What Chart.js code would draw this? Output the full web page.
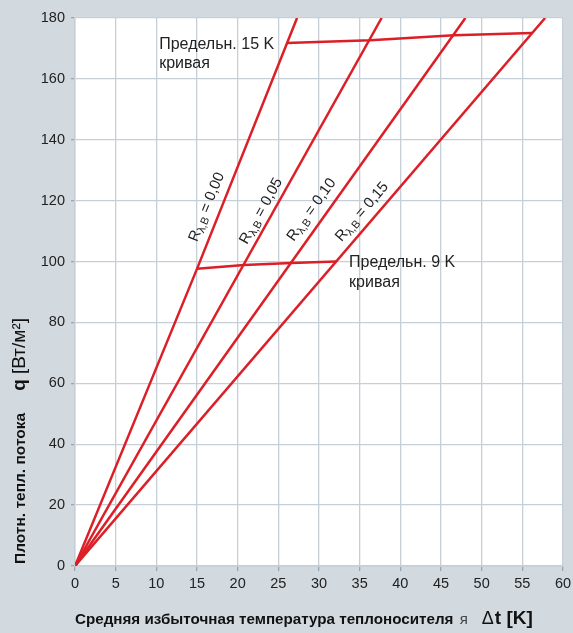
<!DOCTYPE html>
<html>
<head>
<meta charset="utf-8">
<script src="https://cdn.jsdelivr.net/npm/chart.js@4.4.1/dist/chart.umd.min.js"></script>
<style>
  html, body { margin: 0; padding: 0; background: #d2dae0; }
  #wrap { width: 573px; height: 633px; }
</style>
</head>
<body>
<div id="wrap"><canvas id="grafica" width="573" height="633"></canvas></div>
<script>
// Значения
const rLabels = ["0,00", "0,05", "0,10", "0,15"];
const r000X = [0, 15, 27.3];
const r000Y = [0, 97.6, 180];
const r005X = [0, 37.7];
const r005Y = [0, 180];
const r010X = [0, 48.0];
const r010Y = [0, 180];
const r015X = [0, 57.8];
const r015Y = [0, 180];
const limit9X = [15, 20.8, 26.6, 32.1];
const limit9Y = [97.6, 98.9, 99.5, 100];
const limit15X = [26.0, 36.3, 46.6, 56.2];
const limit15Y = [171.8, 172.7, 174.3, 175.1];
const xTicks = [0, 5, 10, 15, 20, 25, 30, 35, 40, 45, 50, 55, 60];
const yTicks = [0, 20, 40, 60, 80, 100, 120, 140, 160, 180];

const RED = "#dc1f26";
const FONT = "'Liberation Sans', Arial, sans-serif";

function puntos(xs, ys) {
  return xs.map((x, i) => ({ x: x, y: ys[i] }));
}

function serie(xs, ys) {
  return {
    data: puntos(xs, ys),
    borderColor: RED,
    borderWidth: 2.5,
    pointRadius: 0,
    showLine: true,
    tension: 0,
  };
}

// posiciones de los textos (centro, en coordenadas de datos)
const rLabelPos = [
  { x: 16.2, y: 117.9, line: [r000X, r000Y] },
  { x: 22.9, y: 116.6, line: [r005X, r005Y] },
  { x: 29.1, y: 117.0, line: [r010X, r010Y] },
  { x: 35.3, y: 116.3, line: [r015X, r015Y] },
];
const limitTexts = [
  { x: 10.35, y: 171.4, lines: ["Предельн. 15 K", "кривая"] },
  { x: 33.7, y: 99.5, lines: ["Предельн. 9 K", "кривая"] },
];

const fondo = {
  id: "fondo",
  beforeDraw(chart) {
    const { ctx, chartArea: a } = chart;
    ctx.save();
    ctx.fillStyle = "#d2dae0";
    ctx.fillRect(0, 0, chart.width, chart.height);
    ctx.fillStyle = "#ffffff";
    ctx.fillRect(a.left, a.top, a.right - a.left, a.bottom - a.top);
    ctx.restore();
  },
};

const textos = {
  id: "textos",
  afterDatasetsDraw(chart) {
    const { ctx, scales } = chart;
    const sx = scales.x, sy = scales.y;
    ctx.save();
    ctx.fillStyle = "#222";
    ctx.textBaseline = "middle";

    // R labels, rotated along each line
    rLabelPos.forEach((p, i) => {
      const xs = p.line[0], ys = p.line[1];
      const n = xs.length - 1;
      const dx = sx.getPixelForValue(xs[n]) - sx.getPixelForValue(xs[0]);
      const dy = sy.getPixelForValue(ys[n]) - sy.getPixelForValue(ys[0]);
      const ang = Math.atan2(dy, dx);
      const parts = [
        { t: "R", f: "15px " + FONT, off: 0 },
        { t: "λ,B", f: "11px " + FONT, off: 4 },
        { t: " = " + rLabels[i], f: "15px " + FONT, off: 0 },
      ];
      let total = 0;
      parts.forEach((q) => { ctx.font = q.f; q.w = ctx.measureText(q.t).width; total += q.w; });
      ctx.save();
      ctx.translate(sx.getPixelForValue(p.x), sy.getPixelForValue(p.y));
      ctx.rotate(ang);
      let cx = -total / 2;
      ctx.textAlign = "left";
      parts.forEach((q) => {
        ctx.font = q.f;
        ctx.fillText(q.t, cx, q.off);
        cx += q.w;
      });
      ctx.restore();
    });

    // limit curve texts
    ctx.font = "16px " + FONT;
    ctx.textAlign = "left";
    limitTexts.forEach((t) => {
      const px = sx.getPixelForValue(t.x);
      const py = sy.getPixelForValue(t.y);
      t.lines.forEach((s, k) => ctx.fillText(s, px, py + k * 19.5));
    });

    // axis titles
    ctx.textBaseline = "alphabetic";
    const xParts = [
      { t: "Средняя избыточная температура теплоносителя ", f: "bold 15.2px " + FONT, c: "#111", gap: 2 },
      { t: "я", f: "15px " + FONT, c: "#444", gap: 14 },
      { t: "Δ", f: "18px " + FONT, c: "#111", gap: 1 },
      { t: "t [K]", f: "bold 19px " + FONT, c: "#111", gap: 0 },
    ];
    let x0 = chart.chartArea.left;
    xParts.forEach((q) => {
      ctx.font = q.f;
      ctx.fillStyle = q.c;
      ctx.fillText(q.t, x0, 624);
      x0 += ctx.measureText(q.t).width + q.gap;
    });

    const yParts = [
      { t: "Плотн. тепл. потока", f: "bold 15.5px " + FONT, gap: 22 },
      { t: "q ", f: "bold 19px " + FONT, gap: 0 },
      { t: "[Вт/м²]", f: "19px " + FONT, gap: 0 },
    ];
    ctx.save();
    ctx.translate(25, chart.chartArea.bottom - 2);
    ctx.rotate(-Math.PI / 2);
    let y0 = 0;
    ctx.fillStyle = "#111";
    yParts.forEach((q) => {
      ctx.font = q.f;
      ctx.fillText(q.t, y0, 0);
      y0 += ctx.measureText(q.t).width + q.gap;
    });
    ctx.restore();
    ctx.restore();
  },
};

const ctx = document.getElementById("grafica");
const myChart = new Chart(ctx, {
  type: "scatter",
  data: {
    datasets: [
      serie(r000X, r000Y),
      serie(r005X, r005Y),
      serie(r010X, r010Y),
      serie(r015X, r015Y),
      serie(limit9X, limit9Y),
      serie(limit15X, limit15Y),
    ],
  },
  options: {
    responsive: false,
    animation: false,
    layout: { padding: { left: 0, right: 10, top: 18, bottom: 0 } },
    plugins: { legend: { display: false }, tooltip: { enabled: false } },
    scales: {
      x: {
        type: "linear",
        min: 0,
        max: 60,
        afterBuildTicks: (s) => { s.ticks = xTicks.map((v) => ({ value: v })); },
        afterFit: (s) => { s.height = 67; s.paddingLeft = 0; s.paddingRight = 0; },
        ticks: { color: "#222", font: { family: FONT, size: 14.5 }, padding: 4 },
        grid: { color: "#c6cfd7", lineWidth: 1.3, tickLength: 5, tickColor: "#9aa5ae" },
        border: { color: "#c6cfd7", width: 1.5 },
      },
      y: {
        type: "linear",
        min: 0,
        max: 180,
        afterBuildTicks: (s) => { s.ticks = yTicks.map((v) => ({ value: v })); },
        afterFit: (s) => { s.width = 75; s.paddingTop = 0; s.paddingBottom = 0; },
        ticks: { color: "#222", font: { family: FONT, size: 14.5 }, padding: 6 },
        grid: { color: "#c6cfd7", lineWidth: 1.3, tickLength: 4, tickColor: "#9aa5ae" },
        border: { color: "#c6cfd7", width: 1.5 },
      },
    },
  },
  plugins: [fondo, textos],
});
</script>
</body>
</html>
